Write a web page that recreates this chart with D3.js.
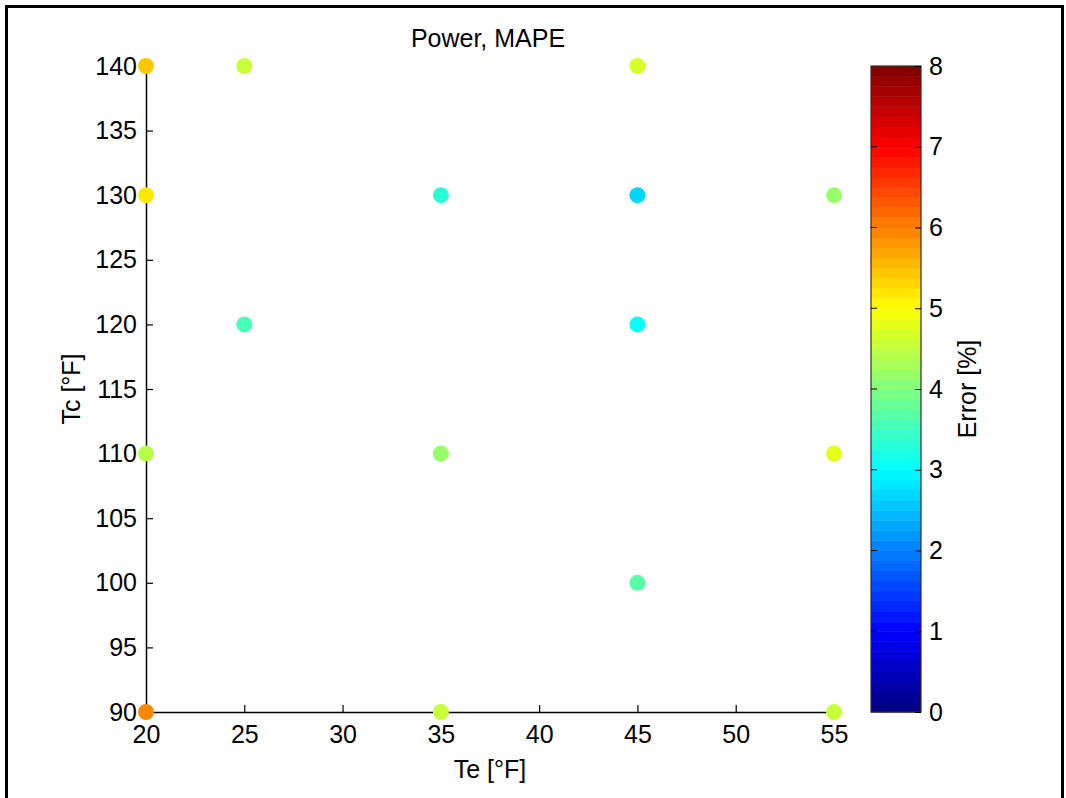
<!DOCTYPE html>
<html>
<head>
<meta charset="utf-8">
<script src="https://cdn.jsdelivr.net/npm/d3@7"></script>
<style>
    body { margin: 0; background: #fff; }
    text { font-family: "Liberation Sans", Arial, sans-serif; fill: #000; }
</style>
</head>
<body>
<script>
(function () {

    //data: Te, Tc and the MAPE error for each point
    var teValues = [20, 25, 45, 20, 35, 45, 55, 25, 45, 20, 35, 55, 45, 20, 35, 55];
    var tcValues = [140, 140, 140, 130, 130, 130, 130, 120, 120, 110, 110, 110, 100, 90, 90, 90];
    var errValues = [5.4, 4.55, 4.7, 5.2, 3.25, 2.7, 4.2, 3.6, 3.1, 4.4, 4.2, 4.75, 3.7, 5.9, 4.55, 4.55];

    var xTicks = [20, 25, 30, 35, 40, 45, 50, 55];
    var yTicks = [90, 95, 100, 105, 110, 115, 120, 125, 130, 135, 140];
    var cTicks = [0, 1, 2, 3, 4, 5, 6, 7, 8];
    var nLevels = 64;

    window.onload = setChart();

    //matlab style jet colour for t in [0,1]
    function jet(t) {
        var clamp = function (v) { return Math.max(0, Math.min(1, v)); };
        var r = clamp(1.5 - Math.abs(4 * t - 3)),
            g = clamp(1.5 - Math.abs(4 * t - 2)),
            b = clamp(1.5 - Math.abs(4 * t - 1));
        return d3.rgb(r * 255, g * 255, b * 255).toString();
    }

    function setChart() {
        var width = 1066,
            height = 798;
        var fontSize = "25px";

        var svg = d3.select("body")
            .append("svg")
            .attr("width", width)
            .attr("height", height);

        //outer frame, open at the bottom
        svg.append("rect")
            .attr("x", 6.5)
            .attr("y", 6.5)
            .attr("width", 1056)
            .attr("height", 820)
            .attr("fill", "none")
            .attr("stroke", "#000")
            .attr("stroke-width", 3);

        var x = d3.scaleLinear().domain([20, 55]).range([146, 834]);
        var y = d3.scaleLinear().domain([90, 140]).range([712, 66]);

        //colour scale: 64 discrete jet levels over 0..8
        var cMin = 0, cMax = 8;
        var colorScale = function (v) {
            var idx = Math.floor((v - cMin) / (cMax - cMin) * nLevels);
            idx = Math.max(0, Math.min(nLevels - 1, idx));
            return jet((idx + 0.5) / nLevels);
        };

        //axes
        var xAxis = svg.append("g")
            .attr("transform", "translate(0,712)")
            .call(d3.axisBottom(x).tickValues(xTicks).tickSizeInner(-7).tickSizeOuter(0).tickPadding(13));
        var yAxis = svg.append("g")
            .attr("transform", "translate(146,0)")
            .call(d3.axisLeft(y).tickValues(yTicks).tickSizeInner(-7).tickSizeOuter(0).tickPadding(9));

        [xAxis, yAxis].forEach(function (ax) {
            ax.select(".domain").attr("stroke", "#000").attr("stroke-width", 1.5);
            ax.selectAll(".tick line").attr("stroke", "#000").attr("stroke-width", 1.2);
            ax.selectAll(".tick text")
                .style("font-family", "'Liberation Sans', Arial, sans-serif")
                .style("font-size", fontSize)
                .attr("fill", "#000");
        });
        xAxis.selectAll(".tick text").attr("dy", "0.72em");

        //points
        var points = teValues.map(function (d, i) {
            return { te: d, tc: tcValues[i], err: errValues[i] };
        });
        svg.selectAll(".dots")
            .data(points)
            .enter()
            .append("circle")
            .attr("class", "dots")
            .attr("cx", function (d) { return x(d.te); })
            .attr("cy", function (d) { return y(d.tc); })
            .attr("r", 8)
            .style("fill", function (d) { return colorScale(d.err); });

        //colorbar
        var cbX = 871, cbW = 50;
        var cy = d3.scaleLinear().domain([cMin, cMax]).range([712, 66]);
        var step = (cMax - cMin) / nLevels;
        svg.selectAll(".cbar")
            .data(d3.range(nLevels))
            .enter()
            .append("rect")
            .attr("class", "cbar")
            .attr("x", cbX)
            .attr("y", function (d) { return cy(cMin + (d + 1) * step); })
            .attr("width", cbW)
            .attr("height", function (d) { return cy(cMin + d * step) - cy(cMin + (d + 1) * step) + 0.5; })
            .style("fill", function (d) { return jet((d + 0.5) / nLevels); });
        svg.append("rect")
            .attr("x", cbX)
            .attr("y", cy(cMax))
            .attr("width", cbW)
            .attr("height", cy(cMin) - cy(cMax))
            .attr("fill", "none")
            .attr("stroke", "#3a2a2a")
            .attr("stroke-width", 1.2);

        var cAxis = svg.append("g")
            .attr("transform", "translate(" + (cbX + cbW) + ",0)")
            .call(d3.axisRight(cy).tickValues(cTicks).tickSizeInner(-6).tickSizeOuter(0).tickPadding(8));
        cAxis.select(".domain").remove();
        cAxis.selectAll(".tick line").attr("stroke", "#000");
        cAxis.selectAll(".tick text")
            .style("font-family", "'Liberation Sans', Arial, sans-serif")
            .style("font-size", fontSize)
            .attr("fill", "#000");
        //small ticks on the left edge of the colorbar
        svg.selectAll(".cTickLeft")
            .data(cTicks.slice(1, -1))
            .enter()
            .append("line")
            .attr("class", "cTickLeft")
            .attr("x1", cbX)
            .attr("x2", cbX + 6)
            .attr("y1", function (d) { return cy(d); })
            .attr("y2", function (d) { return cy(d); })
            .attr("stroke", "#000");

        //titles
        svg.append("text")
            .attr("x", 488)
            .attr("y", 47)
            .attr("text-anchor", "middle")
            .style("font-size", fontSize)
            .text("Power, MAPE");
        svg.append("text")
            .attr("x", 490)
            .attr("y", 778)
            .attr("text-anchor", "middle")
            .style("font-size", fontSize)
            .text("Te [°F]");
        svg.append("text")
            .attr("transform", "translate(80,389) rotate(-90)")
            .attr("text-anchor", "middle")
            .style("font-size", fontSize)
            .text("Tc [°F]");
        svg.append("text")
            .attr("transform", "translate(976,389) rotate(-90)")
            .attr("text-anchor", "middle")
            .style("font-size", fontSize)
            .text("Error [%]");
    }

})();
</script>
</body>
</html>
